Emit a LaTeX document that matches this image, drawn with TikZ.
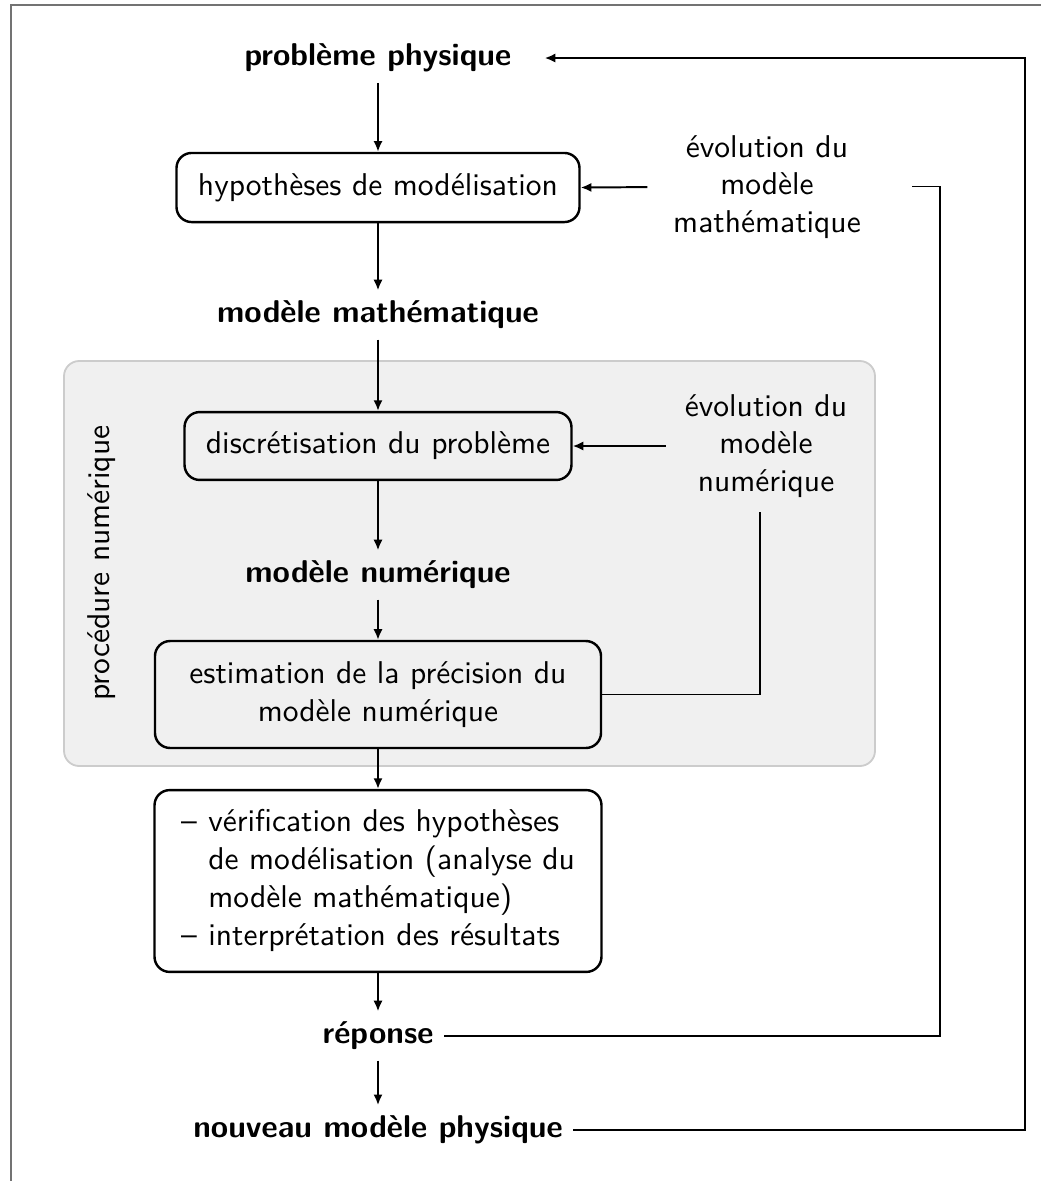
\documentclass[tikz,border=0pt]{standalone}
\usetikzlibrary{arrows.meta}
\begin{document}
\begin{tikzpicture}[x=0.33pt,y=-0.33pt,
  every node/.style={font=\sffamily\fontsize{10.4}{12.5}\selectfont},
  box/.style={draw, rounded corners=5pt, line width=0.8pt, align=center},
  lbl/.style={font=\sffamily\bfseries\fontsize{10.4}{12.5}\selectfont},
  conn/.style={line width=0.65pt},
  arr/.style={conn, -{Latex[length=3.5pt,width=3pt]}}]
\useasboundingbox (0,0) rectangle (1041,1181);
\draw[black!55, line width=0.7pt] (11,1181) -- (11,5) -- (1041,5);
% background of numerical procedure
\draw[rounded corners=5pt, fill=black!6, draw=black!20, line width=0.6pt] (64,361) rectangle (875,766);
\node[rotate=90] (proc) at (102,563) {procédure numérique};
% main column
\node[lbl] (prob) at (378,58) {problème physique};
\node[box, minimum width=133pt, minimum height=22.8pt] (hyp) at (378,187.5) {hypothèses de modélisation};
\node[lbl] (mm) at (378,315) {modèle mathématique};
\node[box, minimum width=127.7pt, minimum height=22.4pt] (disc) at (378,446) {discrétisation du problème};
\node[lbl] (mn) at (378,575) {modèle numérique};
\node[box, minimum width=147.2pt, minimum height=35.3pt] (est) at (378,694.5) {estimation de la précision du\\modèle numérique};
\node[box, minimum width=147.5pt, minimum height=60pt] (ver) at (378,881) {%
  \begin{tabular}{@{}l@{}l@{}}
  \makebox[9pt][l]{–} & vérification des hypothèses\\
   & de modélisation (analyse du\\
   & modèle mathématique)\\
  \makebox[9pt][l]{–} & interprétation des résultats
  \end{tabular}};
\node[lbl] (rep) at (378,1036) {réponse};
\node[lbl] (nmp) at (378,1130) {nouveau modèle physique};
% side texts
\node[align=center] (evm) at (767,187) {évolution du\\modèle\\mathématique};
\node[align=center] (evn) at (766,446) {évolution du\\modèle\\numérique};
\coordinate (evmr) at (912,186.5);
\coordinate (c1) at (940,186.5);
\coordinate (c2) at (1025,58);
\coordinate (evnb) at (760,512);
% connectors
\draw[arr] (prob) -- (hyp);
\draw[arr] (hyp) -- (mm);
\draw[arr] (mm) -- (disc);
\draw[arr] (disc) -- (mn);
\draw[arr] (mn) -- (est);
\draw[arr] (est) -- (ver);
\draw[arr] (ver) -- (rep);
\draw[arr] (rep) -- (nmp);
\draw[arr, shorten <=5pt] (evm.west) -- (hyp.east);
\draw[arr, shorten <=2.8pt] (evn.west) -- (disc.east);
\draw[conn] (est.east) -| (evnb);
\draw[conn] (rep.east) -| (c1) -- (evmr);
\draw[arr, shorten >=7.5pt] (nmp.east) -| (c2) -- (prob.east);
\end{tikzpicture}
\end{document}
